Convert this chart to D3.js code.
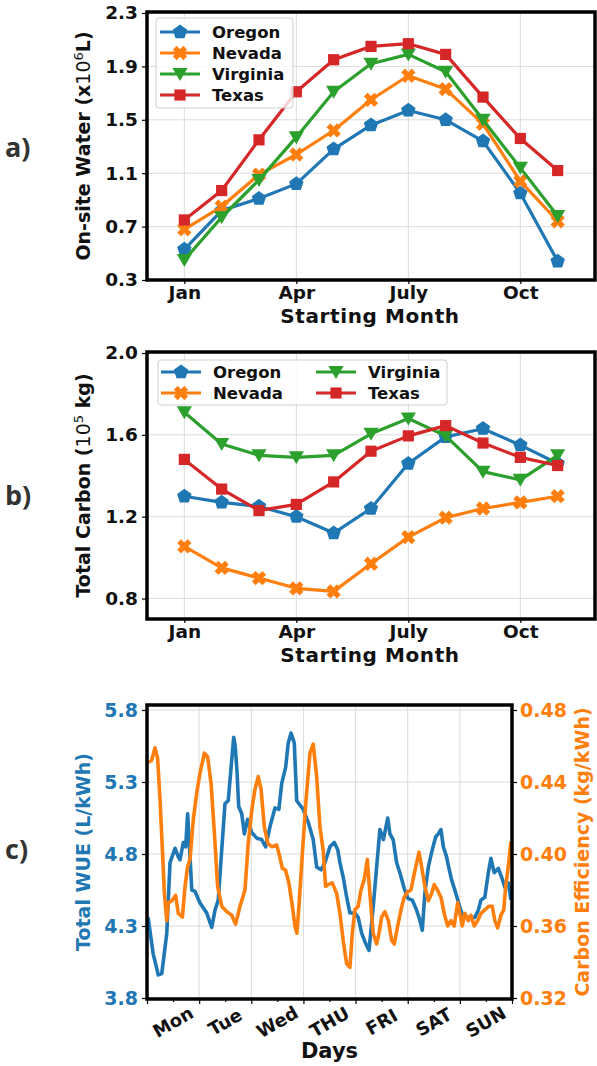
<!DOCTYPE html>
<html>
<head>
<meta charset="utf-8">
<script src="https://cdn.jsdelivr.net/npm/d3@7/dist/d3.min.js"></script>
<style>
  body { margin: 0; background: #fff; }
  svg { display: block; }
  text { font-family: "DejaVu Sans", sans-serif; font-weight: bold; }
</style>
</head>
<body>
<div id="chart"></div>
<script>
// ---- data ----
const monthIdx = [0, 1, 2, 3, 4, 5, 6, 7, 8, 9, 10];   // Jan .. Nov
const monthTicks = [0, 3, 6, 9];
const monthTickLabels = ["Jan", "Apr", "July", "Oct"];
const states = ["Oregon", "Nevada", "Virginia", "Texas"];

// a) on-site water (x10^6 L)
const waterOregon   = [0.53, 0.82, 0.91, 1.02, 1.28, 1.46, 1.57, 1.50, 1.34, 0.95, 0.44];
const waterNevada   = [0.68, 0.85, 1.09, 1.24, 1.42, 1.65, 1.83, 1.73, 1.47, 1.04, 0.74];
const waterVirginia = [0.45, 0.77, 1.05, 1.37, 1.71, 1.92, 1.99, 1.86, 1.50, 1.14, 0.78];
const waterTexas    = [0.75, 0.97, 1.35, 1.71, 1.95, 2.05, 2.07, 1.99, 1.67, 1.36, 1.12];
const waterTicks = [0.3, 0.7, 1.1, 1.5, 1.9, 2.3];

// b) total carbon (10^5 kg)
const carbonOregon   = [1.30, 1.27, 1.25, 1.20, 1.12, 1.24, 1.46, 1.59, 1.63, 1.55, 1.46];
const carbonNevada   = [1.055, 0.95, 0.90, 0.85, 0.835, 0.97, 1.10, 1.195, 1.24, 1.27, 1.30];
const carbonVirginia = [1.71, 1.555, 1.50, 1.49, 1.50, 1.605, 1.68, 1.595, 1.42, 1.38, 1.50];
const carbonTexas    = [1.48, 1.335, 1.23, 1.26, 1.37, 1.52, 1.595, 1.645, 1.56, 1.49, 1.45];
const carbonTicks = [0.8, 1.2, 1.6, 2.0];

// c) hourly WUE and carbon efficiency over one week
const wueHours = [0.5, 2.8, 5.2, 6.8, 9.1, 10.6, 12.9, 14.4, 15.2, 16.7, 17.8, 18.7, 19.8, 20.6, 22.1,
  24.4, 27.5, 29.8, 31.3, 32.8, 34.4, 35.9, 37.4, 38.7, 39.9, 40.6, 41.4, 42.2, 43.6, 44.8, 46.3,
  48.2, 50.5, 52.8, 54.6, 56.6, 58.9, 60.7, 62, 63.8, 65, 66.3, 67.8, 68.9, 70.4, 71.9, 74.2, 76.5,
  78.1, 80.1, 81.9, 84.2, 86.2, 87.8, 88.8, 90.3, 91.9, 93.4, 95.7, 97.2, 98.8, 100.6, 102.2, 104.1,
  105.7, 107.2, 108.8, 110.8, 111.8, 113.3, 114.9, 116.4, 118.4, 120.2, 122.1, 124.1, 125.6, 126.7,
  127.9, 129.5, 131.3, 132.9, 134.1, 135.3, 136.4, 137.9, 138.7, 140.2, 142.1, 144, 145.6, 147.6,
  149.1, 150.9, 152.5, 153.7, 155.5, 157.1, 158.3, 159.8, 161.7, 163.2, 164.7, 166.3, 167.5];
const wueValues = [4.36, 4.11, 3.96, 3.97, 4.25, 4.74, 4.84, 4.78, 4.76, 4.88, 4.85, 5.08, 4.78, 4.55, 4.54,
  4.46, 4.39, 4.29, 4.41, 4.48, 4.83, 5.15, 5.17, 5.40, 5.61, 5.55, 5.38, 5.13, 5.08, 4.94, 5.04,
  4.95, 4.91, 4.90, 4.85, 4.99, 5.12, 5.11, 5.29, 5.40, 5.57, 5.64, 5.57, 5.17, 5.14, 5.11, 5.02, 4.90,
  4.71, 4.69, 4.74, 4.85, 4.88, 4.83, 4.74, 4.64, 4.50, 4.39, 4.39, 4.36, 4.25, 4.18, 4.13, 4.43,
  4.71, 4.97, 4.90, 5.05, 4.94, 4.90, 4.74, 4.67, 4.56, 4.49, 4.48, 4.41, 4.34, 4.27,
  4.53, 4.71, 4.83, 4.92, 4.94, 4.97, 4.85, 4.78, 4.72, 4.62, 4.53, 4.43, 4.36, 4.36,
  4.36, 4.36, 4.41, 4.48, 4.50, 4.67, 4.77, 4.67, 4.70, 4.64, 4.57, 4.60, 4.48];

const ceHours = [0.6, 2.1, 3.7, 4.9, 6, 7.1, 8, 9.1, 9.8, 11.4, 13.2, 14.4, 16.3, 17.5, 18.7, 19.8, 21.3,
  22.9, 24.4, 26.4, 27.9, 29.5, 31, 32.5, 34.4, 36.7, 39, 40.8, 42.8, 45.1, 46.6, 48.2, 49.7, 51.2,
  52.5, 54, 55.6, 57.4, 59.7, 61.2, 62.3, 63.8, 65.3, 66.9, 68.1, 69, 70.1, 71.6, 73.2, 75, 76.5,
  78.1, 79.6, 81.1, 82.2, 83.4, 85.3, 87.3, 88.8, 90.3, 91.9, 93.4, 94.5, 95.7, 97.2, 98.5, 100,
  101.4, 102.6, 104.1, 105.7, 106.8, 108, 109.5, 111.1, 112.6, 113.8, 115.4, 116.9, 118.4, 120,
  121.5, 123, 125.2, 126.4, 127.9, 129.5, 131, 132.2, 133.7, 135.3, 136.8, 138.4, 139.9, 141.4,
  143, 144, 145.1, 146.3, 147.9, 149.1, 150.6, 152.2, 153.7, 155.5, 157.4, 158.9, 160.1, 161.4,
  162.9, 164.2, 165.1, 166.3, 167.5];
const ceValues = [0.451, 0.452, 0.459, 0.453, 0.430, 0.402, 0.378, 0.363, 0.373, 0.374, 0.377, 0.367,
  0.365, 0.382, 0.393, 0.397, 0.419, 0.434, 0.445, 0.456, 0.454, 0.439, 0.412, 0.382, 0.371, 0.368,
  0.366, 0.361, 0.371, 0.380, 0.406, 0.424, 0.436, 0.443, 0.436, 0.415, 0.406, 0.404, 0.405, 0.398,
  0.392, 0.391, 0.384, 0.371, 0.360, 0.356, 0.374, 0.402, 0.430, 0.456, 0.461, 0.443, 0.415, 0.402,
  0.382, 0.383, 0.384, 0.378, 0.367, 0.352, 0.339, 0.337, 0.356, 0.369, 0.371, 0.380, 0.386, 0.397,
  0.378, 0.356, 0.350, 0.356, 0.365, 0.368, 0.363, 0.352, 0.350, 0.360, 0.369, 0.376, 0.379, 0.380,
  0.389, 0.401, 0.393, 0.382, 0.374, 0.378, 0.383, 0.380, 0.376, 0.367, 0.360, 0.363, 0.360, 0.373,
  0.367, 0.360, 0.367, 0.363, 0.366, 0.360, 0.363, 0.367, 0.369, 0.371, 0.371, 0.363, 0.359, 0.366,
  0.369, 0.382, 0.393, 0.407];
const wueTicks = [3.8, 4.3, 4.8, 5.3, 5.8];
const ceTicks = [0.32, 0.36, 0.40, 0.44, 0.48];
const dayBounds = [0, 24, 48, 72, 96, 120, 144, 168];
const dayLabels = ["Mon", "Tue", "Wed", "THU", "FRI", "SAT", "SUN"];

// ---- styles ----
const colors = ["#1f77b4", "#ff7f0e", "#2ca02c", "#d62728"];
const markerKinds = ["pentagon", "x", "tri", "square"];
const W = 597, H = 1066;

const svg = d3.select("#chart").append("svg").attr("width", W).attr("height", H);

function markerPath(kind) {
  const p = d3.path();
  if (kind === "pentagon") {
    const r = 7.6;
    for (let k = 0; k < 5; k++) {
      const a = -Math.PI / 2 + k * 2 * Math.PI / 5;
      k ? p.lineTo(r * Math.cos(a), r * Math.sin(a)) : p.moveTo(r * Math.cos(a), r * Math.sin(a));
    }
  } else if (kind === "square") {
    p.rect(-5.6, -5.6, 11.2, 11.2);
  } else if (kind === "tri") {
    p.moveTo(-7.6, -6); p.lineTo(7.6, -6); p.lineTo(0, 7);
  } else {
    // filled X
    const L = 7.4, t = 2.7;
    const pts = [[-t, -L], [t, -L], [t, -t], [L, -t], [L, t], [t, t], [t, L], [-t, L], [-t, t], [-L, t], [-L, -t], [-t, -t]];
    const c = Math.SQRT1_2;
    pts.forEach(([x, y], i) => {
      const rx = (x - y) * c, ry = (x + y) * c;
      i ? p.lineTo(rx, ry) : p.moveTo(rx, ry);
    });
  }
  p.closePath();
  return p.toString();
}

function panelLetter(txt, y) {
  svg.append("text").attr("x", 5).attr("y", y).text(txt)
    .style("font-family", "'Open Sans', sans-serif").style("font-size", "27px")
    .attr("fill", "#333");
}

function monthPanel(cfg) {
  const x = d3.scaleLinear().domain([-1, 11]).range([147, 595]);
  const y = d3.scaleLinear().domain(cfg.yDomain).range([cfg.bottom, cfg.top]);
  const g = svg.append("g");

  // grid
  g.selectAll("line.hg").data(cfg.yTicks).enter().append("line")
    .attr("x1", 147).attr("x2", 595).attr("y1", d => y(d)).attr("y2", d => y(d))
    .attr("stroke", "#dcdcdc").attr("stroke-width", 1);
  g.selectAll("line.vg").data(monthTicks).enter().append("line")
    .attr("x1", d => x(d)).attr("x2", d => x(d)).attr("y1", cfg.frameTop).attr("y2", cfg.bottom)
    .attr("stroke", "#dcdcdc").attr("stroke-width", 1);

  // lines + markers
  const line = d3.line().x((d, i) => x(monthIdx[i])).y(d => y(d));
  cfg.series.forEach((vals, s) => {
    g.append("path").datum(vals).attr("d", line)
      .attr("fill", "none").attr("stroke", colors[s]).attr("stroke-width", 3.2)
      .attr("stroke-linejoin", "round");
    g.selectAll(null).data(vals).enter().append("path")
      .attr("transform", (d, i) => `translate(${x(monthIdx[i])},${y(d)})`)
      .attr("d", markerPath(markerKinds[s])).attr("fill", colors[s]);
  });

  // axes
  const ya = g.append("g").attr("transform", "translate(147,0)")
    .call(d3.axisLeft(y).tickValues(cfg.yTicks).tickFormat(d3.format(".1f")).tickSize(5).tickPadding(4));
  const xa = g.append("g").attr("transform", `translate(0,${cfg.bottom})`)
    .call(d3.axisBottom(x).tickValues(monthTicks).tickFormat((d, i) => monthTickLabels[i]).tickSize(4).tickPadding(2));
  [ya, xa].forEach(a => {
    a.select(".domain").remove();
    a.selectAll("line").attr("stroke", "#000").attr("stroke-width", 1.2);
    a.selectAll("text").attr("fill", "#111").style("font-size", "18.5px");
  });

  // frame
  g.append("rect").attr("x", 147).attr("y", cfg.frameTop).attr("width", 448).attr("height", cfg.bottom - cfg.frameTop)
    .attr("fill", "none").attr("stroke", "#000").attr("stroke-width", 3.5);

  // legend
  const lg = g.append("g");
  lg.append("rect").attr("x", cfg.legend.x).attr("y", cfg.legend.y).attr("width", cfg.legend.w).attr("height", cfg.legend.h)
    .attr("rx", 3).attr("fill", "#fff").attr("fill-opacity", 0.8).attr("stroke", "#cfcfcf");
  states.forEach((name, s) => {
    const [cx, cy] = cfg.legend.pos[s];
    lg.append("line").attr("x1", cx - 20).attr("x2", cx + 20).attr("y1", cy).attr("y2", cy)
      .attr("stroke", colors[s]).attr("stroke-width", 3.2);
    lg.append("path").attr("transform", `translate(${cx},${cy})`).attr("d", markerPath(markerKinds[s])).attr("fill", colors[s]);
    lg.append("text").attr("x", cx + 32).attr("y", cy + 6).text(name)
      .style("font-size", "16.5px").attr("fill", "#111");
  });

  // axis titles
  g.append("text").attr("x", 370).attr("y", cfg.xLabelY).attr("text-anchor", "middle")
    .style("font-size", "20px").style("letter-spacing", "0.6px").attr("fill", "#111").text("Starting Month");
  const yl = g.append("text").attr("transform", `translate(90,${(cfg.frameTop + cfg.bottom) / 2}) rotate(-90)`)
    .attr("text-anchor", "middle").style("font-size", "19px").attr("fill", "#111");
  cfg.yLabel(yl);
}

// ---- panel a ----
panelLetter("a)", 157);
monthPanel({
  yDomain: [0.3, 2.3], top: 13, frameTop: 12, bottom: 280, yTicks: waterTicks,
  series: [waterOregon, waterNevada, waterVirginia, waterTexas],
  legend: { x: 156, y: 18, w: 137, h: 90, pos: [[180, 32], [180, 53], [180, 74], [180, 95]] },
  xLabelY: 323,
  yLabel: t => {
    t.append("tspan").text("On-site Water (x");
    t.append("tspan").text("10").style("font-weight", "normal");
    t.append("tspan").text("6").style("font-weight", "normal").style("font-size", "13px").attr("dy", -7);
    t.append("tspan").text("L)").attr("dy", 7);
  }
});

// ---- panel b ----
panelLetter("b)", 505);
monthPanel({
  yDomain: [0.7, 2.0], top: 353, frameTop: 352, bottom: 619, yTicks: carbonTicks,
  series: [carbonOregon, carbonNevada, carbonVirginia, carbonTexas],
  legend: { x: 158, y: 360, w: 289, h: 45, pos: [[181, 372], [181, 393], [336, 372], [336, 393]] },
  xLabelY: 662,
  yLabel: t => {
    t.append("tspan").text("Total Carbon (");
    t.append("tspan").text("10").style("font-weight", "normal");
    t.append("tspan").text("5").style("font-weight", "normal").style("font-size", "13px").attr("dy", -7);
    t.append("tspan").text(" kg)").attr("dy", 7);
  }
});

// ---- panel c ----
panelLetter("c)", 859);
(function () {
  const top = 705, bottom = 999, left = 147, right = 512;
  const x = d3.scaleLinear().domain([0, 168]).range([left, right]);
  const yL = d3.scaleLinear().domain([3.8, 3.8 + 2.0 * 293 / 288]).range([998, top]);
  const yR = d3.scaleLinear().domain([0.32, 0.32 + 0.16 * 293 / 288]).range([998, top]);
  const g = svg.append("g");

  g.selectAll("line.hg").data(wueTicks).enter().append("line")
    .attr("x1", left).attr("x2", right).attr("y1", d => yL(d)).attr("y2", d => yL(d))
    .attr("stroke", "#dcdcdc");
  g.selectAll("line.vg").data(dayBounds).enter().append("line")
    .attr("x1", d => x(d)).attr("x2", d => x(d)).attr("y1", top).attr("y2", bottom)
    .attr("stroke", "#dcdcdc");

  g.append("path").datum(wueValues)
    .attr("d", d3.line().x((d, i) => x(wueHours[i])).y(d => yL(d)))
    .attr("fill", "none").attr("stroke", "#1f77b4").attr("stroke-width", 3.6).attr("stroke-linejoin", "round");
  g.append("path").datum(ceValues)
    .attr("d", d3.line().x((d, i) => x(ceHours[i])).y(d => yR(d)))
    .attr("fill", "none").attr("stroke", "#ff7f0e").attr("stroke-width", 3.6).attr("stroke-linejoin", "round");

  const la = g.append("g").attr("transform", `translate(${left},0)`)
    .call(d3.axisLeft(yL).tickValues(wueTicks).tickFormat(d3.format(".1f")).tickSize(5).tickPadding(4));
  const ra = g.append("g").attr("transform", `translate(${right},0)`)
    .call(d3.axisRight(yR).tickValues(ceTicks).tickFormat(d3.format(".2f")).tickSize(5).tickPadding(3));
  const ba = g.append("g").attr("transform", `translate(0,${bottom})`)
    .call(d3.axisBottom(x).tickValues(dayBounds).tickFormat("").tickSize(5));
  const mids = dayBounds.slice(0, 7).map(d => d + 12);
  const bm = g.append("g").attr("transform", `translate(0,${bottom})`)
    .call(d3.axisBottom(x).tickValues(mids).tickFormat("").tickSize(3));
  [la, ra, ba, bm].forEach(a => {
    a.select(".domain").remove();
    a.selectAll("line").attr("stroke", "#000").attr("stroke-width", 1.2);
  });
  la.selectAll("text").attr("fill", "#1f77b4").style("font-size", "19px");
  ra.selectAll("text").attr("fill", "#ff7f0e").style("font-size", "19px");

  g.selectAll("text.day").data(mids).enter().append("text")
    .attr("transform", d => `translate(${x(d)},1022) rotate(-30)`)
    .attr("text-anchor", "middle").attr("dy", "0.35em")
    .style("font-size", "18px").attr("fill", "#111")
    .text((d, i) => dayLabels[i]);

  g.append("rect").attr("x", left).attr("y", top).attr("width", right - left).attr("height", bottom - top)
    .attr("fill", "none").attr("stroke", "#000").attr("stroke-width", 3.5);

  g.append("text").attr("x", (left + right) / 2).attr("y", 1058).attr("text-anchor", "middle")
    .style("font-size", "21px").attr("fill", "#111").text("Days");
  g.append("text").attr("transform", `translate(90,${(top + bottom) / 2}) rotate(-90)`)
    .attr("text-anchor", "middle").style("font-size", "19px").attr("fill", "#1f77b4")
    .text("Total WUE (L/kWh)");
  g.append("text").attr("transform", `translate(589,${(top + bottom) / 2}) rotate(-90)`)
    .attr("text-anchor", "middle").style("font-size", "19px").attr("fill", "#ff7f0e")
    .text("Carbon Efficiency (kg/kWh)");
})();
</script>
</body>
</html>
